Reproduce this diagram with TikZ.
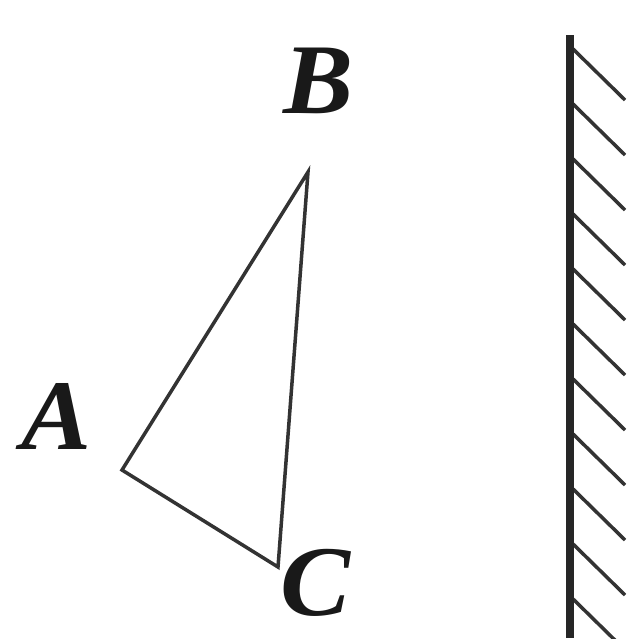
\documentclass[tikz,border=0pt]{standalone}
\usepackage{fontspec}
\setmainfont{Liberation Serif}
\begin{document}
\begin{tikzpicture}[x=1pt,y=-1pt,
  edge/.style={draw=black!80,line width=3.5pt,line join=miter},
  mirror/.style={draw=black!85,line width=8pt},
  hatch/.style={draw=black!80,line width=3.5pt},
  lab/.style={font=\fontsize{100}{100}\selectfont\itshape\bfseries,text=black!90,inner sep=0pt,xscale=1.05}]
\useasboundingbox (0,0) rectangle (644,638);
\coordinate (A) at (122,470);
\coordinate (B) at (308,172);
\coordinate (C) at (278,567);
\draw[edge] (A) -- (B) -- (C) -- cycle;
\node[lab] (la) at (57,416) {A};
\node[lab] (lb) at (319,81) {B};
\node[lab] (lc) at (316,583) {C};
\coordinate (mt) at (570,35);
\coordinate (mb) at (570,638);
\begin{scope}
\clip (0,0) rectangle (644,638);
\foreach \y in {48,103,158,213,268,323,378,433,488,543,598}{
  \draw[hatch] (572,\y) -- (625,\y+52);
}
\draw[mirror] (mt) -- (mb);
\end{scope}
\end{tikzpicture}
\end{document}
